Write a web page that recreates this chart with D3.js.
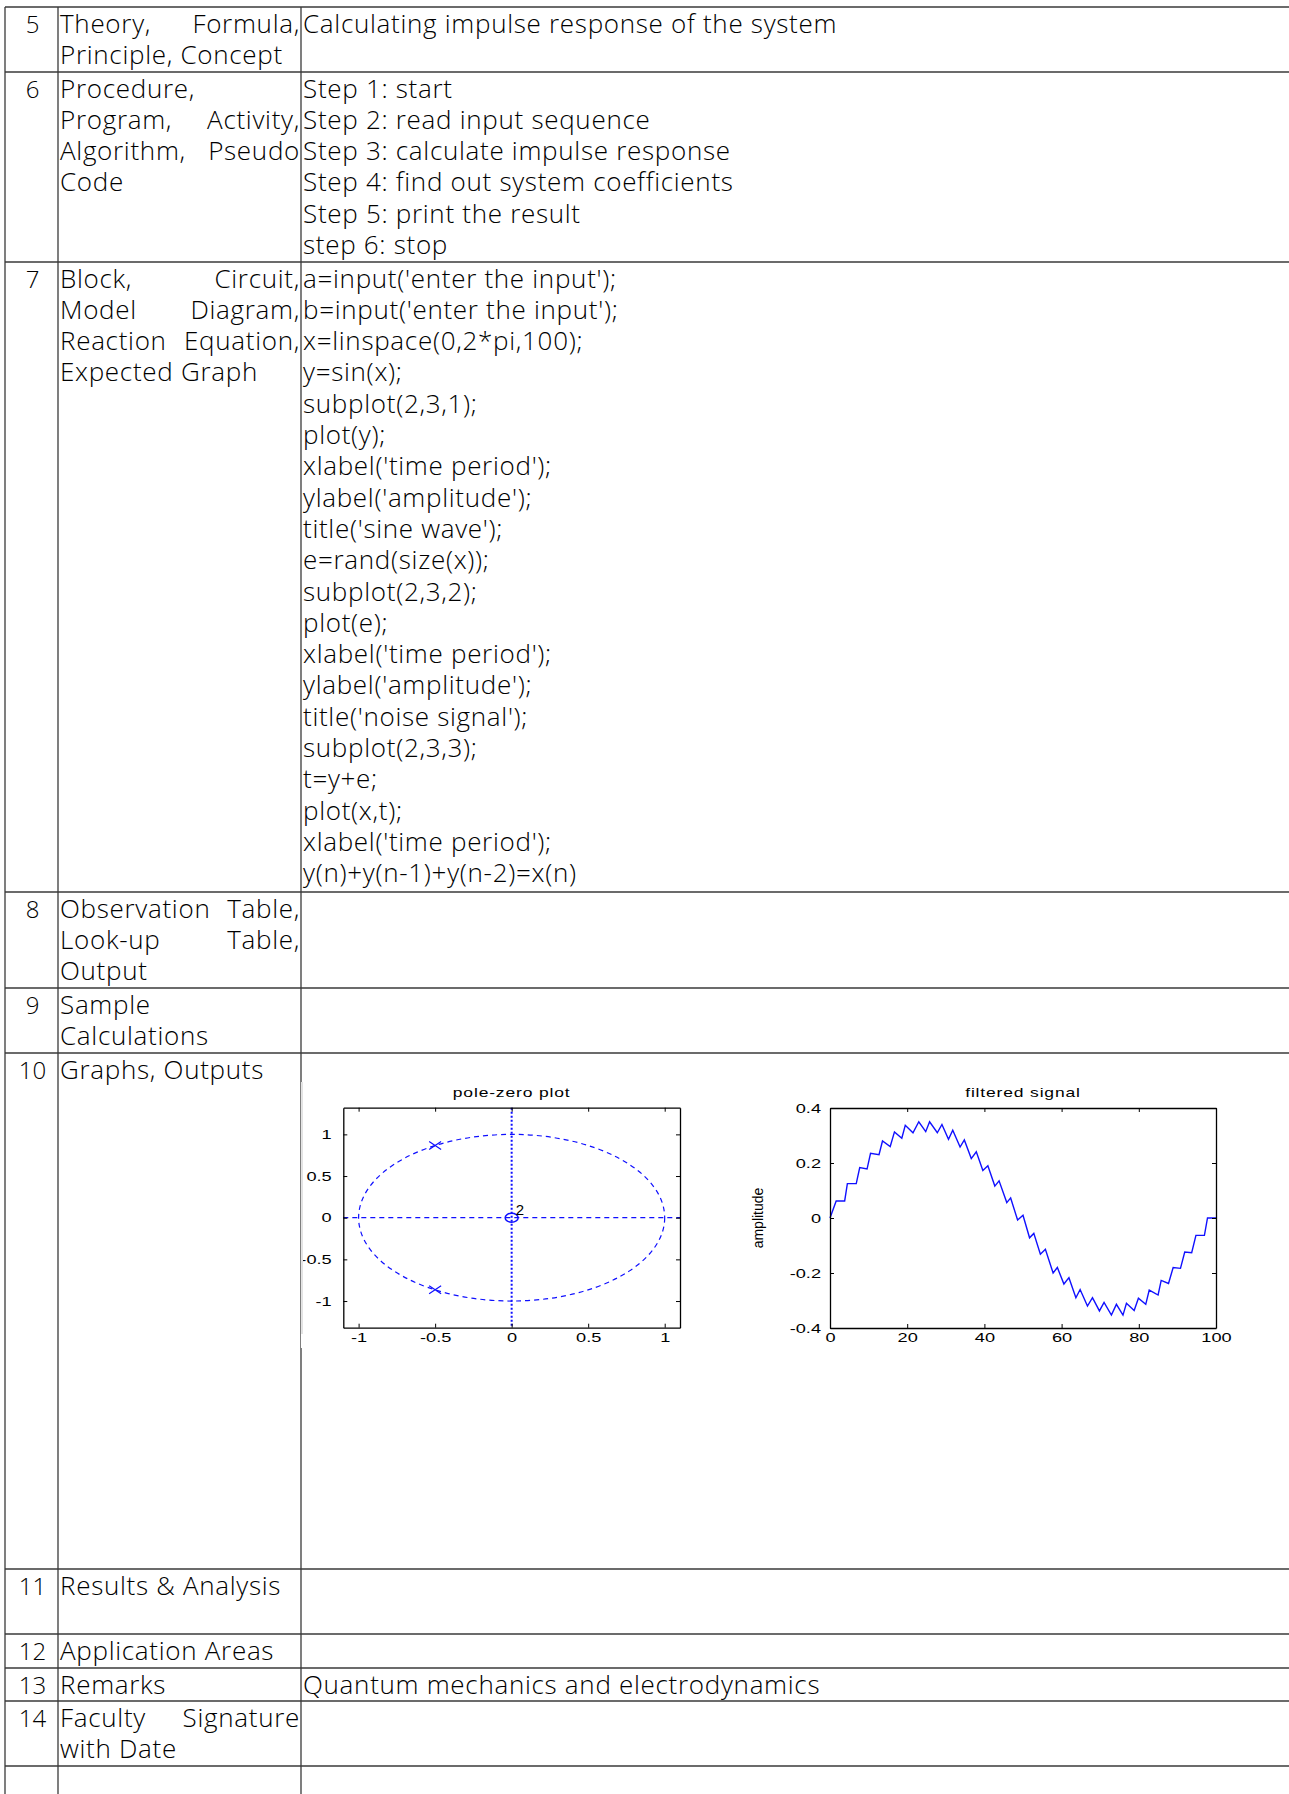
<!DOCTYPE html>
<html>
<head>
<meta charset="utf-8">
<script src="https://cdn.jsdelivr.net/npm/d3@7"></script>
<style>
  body { margin: 0; background: #fff; }
  svg { display: block; }
</style>
</head>
<body>
<svg id="svgMain" width="1289" height="1794"></svg>
<script>
// ---- data ----
const rowNums = ["5", "6", "7", "8", "9", "10", "11", "12", "13", "14", ""];

// left column labels, one array per row; "J" = justified line, "L" = left line
const rowLabels = [
    [["Theory, Formula,", "J"], ["Principle, Concept", "L"]],
    [["Procedure,", "L"], ["Program, Activity,", "J"], ["Algorithm, Pseudo", "J"], ["Code", "L"]],
    [["Block, Circuit,", "J"], ["Model Diagram,", "J"], ["Reaction Equation,", "J"], ["Expected Graph", "L"]],
    [["Observation Table,", "J"], ["Look-up Table,", "J"], ["Output", "L"]],
    [["Sample", "L"], ["Calculations", "L"]],
    [["Graphs, Outputs", "L"]],
    [["Results & Analysis", "L"]],
    [["Application Areas", "L"]],
    [["Remarks", "L"]],
    [["Faculty Signature", "J"], ["with Date", "L"]],
    []
];

const rowContent = [
    ["Calculating impulse response of the system"],
    ["Step 1: start", "Step 2: read input sequence", "Step 3: calculate impulse response",
     "Step 4: find out system coefficients", "Step 5: print the result", "step 6: stop"],
    ["a=input('enter the input');", "b=input('enter the input');", "x=linspace(0,2*pi,100);",
     "y=sin(x);", "subplot(2,3,1);", "plot(y);", "xlabel('time period');", "ylabel('amplitude');",
     "title('sine wave');", "e=rand(size(x));", "subplot(2,3,2);", "plot(e);",
     "xlabel('time period');", "ylabel('amplitude');", "title('noise signal');",
     "subplot(2,3,3);", "t=y+e;", "plot(x,t);", "xlabel('time period');", "y(n)+y(n-1)+y(n-2)=x(n)"],
    [], [], [], [], [],
    ["Quantum mechanics and electrodynamics"],
    [], []
];

// pole-zero plot
const poleRe = [-0.5, -0.5];
const poleIm = [0.866, -0.866];
const zeroRe = [0];
const zeroIm = [0];
const zeroCount = "2";
const pzTicks = [-1, -0.5, 0, 0.5, 1];

// filtered signal (vertices)
const sigX = [0, 1.6, 3.8, 4.5, 6.8, 7.7, 9.6, 10.5, 12.7, 13.6,
    15.6, 16.7, 18.6, 19.5, 21.5, 23, 24.8, 25.8, 27.8, 29,
    30.7, 31.8, 33.7, 34.8, 36.6, 37.9, 39.6, 40.9, 42.7, 43.8,
    45.8, 46.8, 48.6, 50, 51.7, 52.8, 54.5, 55.8, 57.8, 58.9,
    60.6, 61.9, 63.7, 64.8, 66.7, 68, 69.8, 71, 72.9, 74.2,
    75.9, 76.8, 78.8, 79.9, 81.8, 82.7, 85, 85.8, 87.7, 88.9,
    90.8, 91.9, 93.7, 94.8, 97, 97.8, 100];
const sigY = [0, 0.062, 0.062, 0.125, 0.125, 0.183, 0.178, 0.235, 0.23, 0.28,
    0.26, 0.313, 0.29, 0.337, 0.31, 0.35, 0.314, 0.35, 0.31, 0.34,
    0.286, 0.319, 0.258, 0.284, 0.216, 0.241, 0.173, 0.19, 0.116, 0.135,
    0.056, 0.073, -0.007, 0.01, -0.072, -0.056, -0.132, -0.114, -0.2, -0.18,
    -0.24, -0.217, -0.29, -0.26, -0.32, -0.29, -0.338, -0.307, -0.353, -0.314,
    -0.353, -0.31, -0.336, -0.292, -0.314, -0.262, -0.28, -0.227, -0.238, -0.18,
    -0.183, -0.124, -0.126, -0.063, -0.063, 0, 0];
const sigXTicks = [0, 20, 40, 60, 80, 100];
const sigYTicks = [-0.4, -0.2, 0, 0.2, 0.4];

// ---- layout ----
let svgMain = d3.select("#svgMain");
const W = +svgMain.attr("width");
const rowEdges = [7, 72, 262, 892, 988, 1053, 1569, 1634, 1668, 1701, 1766, 1800];
const colEdges = [5, 58, 301];
const lineH = 31.3;
const firstBase = 25.5;
const fontFam = "'Open Sans', Lato, sans-serif";
const fontSize = 26;
const lineColor = "#3a3a3a";

// table lines
const grid = svgMain.append("g").attr("class", "grid");
rowEdges.slice(0, -1).forEach(y => {
    grid.append("line").attr("x1", colEdges[0]).attr("x2", W)
        .attr("y1", y).attr("y2", y)
        .attr("stroke", lineColor).attr("stroke-width", 1.4);
});
colEdges.forEach(x => {
    grid.append("line").attr("x1", x).attr("x2", x)
        .attr("y1", rowEdges[0]).attr("y2", 1794)
        .attr("stroke", lineColor).attr("stroke-width", 1.3);
});

const txt = svgMain.append("g")
    .attr("font-family", fontFam)
    .attr("font-size", fontSize)
    .attr("font-weight", 300)
    .attr("letter-spacing", 0.7)
    .attr("fill", "#000");

// row numbers
rowNums.forEach((n, i) => {
    txt.append("text")
        .attr("x", (colEdges[0] + colEdges[1]) / 2 + 1)
        .attr("y", rowEdges[i] + firstBase)
        .attr("text-anchor", "middle")
        .attr("font-size", 24)
        .attr("letter-spacing", 0)
        .text(n);
});

// left labels (with justification)
const labLeft = colEdges[1] + 2, labRight = colEdges[2] - 1;
rowLabels.forEach((lines, i) => {
    lines.forEach(([s, mode], j) => {
        const y = rowEdges[i] + firstBase + j * lineH;
        const words = s.split(" ");
        if (mode === "L" || words.length < 2) {
            txt.append("text").attr("x", labLeft).attr("y", y).text(s);
            return;
        }
        const nodes = words.map(w => txt.append("text").attr("y", y).text(w));
        const widths = nodes.map(n => n.node().getComputedTextLength());
        const gap = (labRight - labLeft - d3.sum(widths)) / (words.length - 1);
        let x = labLeft;
        nodes.forEach((n, k) => {
            n.attr("x", x);
            x += widths[k] + gap;
        });
    });
});

// right column content
rowContent.forEach((lines, i) => {
    lines.forEach((s, j) => {
        txt.append("text")
            .attr("x", colEdges[2] + 2)
            .attr("y", rowEdges[i] + firstBase + j * lineH)
            .text(s);
    });
});

// ---- graphs image area ----
const imgBox = { x: 301, y: 1082, w: 940, h: 266 };
svgMain.append("rect")
    .attr("x", imgBox.x).attr("y", imgBox.y)
    .attr("width", imgBox.w).attr("height", imgBox.h)
    .attr("fill", "#fff");
svgMain.append("line")
    .attr("x1", imgBox.x + 1).attr("x2", imgBox.x + 1)
    .attr("y1", imgBox.y).attr("y2", imgBox.y + 252)
    .attr("stroke", "#c8c8c8").attr("stroke-width", 1);

svgMain.append("clipPath").attr("id", "imgClip")
    .append("rect")
    .attr("x", imgBox.x + 2).attr("y", imgBox.y)
    .attr("width", imgBox.w).attr("height", imgBox.h);

const graphs = svgMain.append("g").attr("clip-path", "url(#imgClip)");

const plotFont = "'Liberation Sans', Arial, sans-serif";
const stretch = 1.4;
const blue = "#1010ff";

function boxAxes(g, x, y, xt, yt, xpad, ypad) {
    const x0 = x.range()[0], x1 = x.range()[1];
    const y0 = y.range()[0], y1 = y.range()[1];
    const fmt = d => String(d);
    g.append("g").attr("transform", "translate(0," + y0 + ")")
        .call(d3.axisBottom(x).tickValues(xt).tickFormat(fmt).tickSizeInner(-4).tickSizeOuter(0).tickPadding(xpad));
    g.append("g").attr("transform", "translate(0," + y1 + ")")
        .call(d3.axisTop(x).tickValues(xt).tickSizeInner(-4).tickSizeOuter(0).tickFormat(""));
    g.append("g").attr("transform", "translate(" + x0 + ",0)")
        .call(d3.axisLeft(y).tickValues(yt).tickFormat(fmt).tickSizeInner(-4).tickSizeOuter(0).tickPadding(ypad));
    g.append("g").attr("transform", "translate(" + x1 + ",0)")
        .call(d3.axisRight(y).tickValues(yt).tickSizeInner(-4).tickSizeOuter(0).tickFormat(""));
    g.selectAll(".domain").attr("stroke", "#000").attr("stroke-width", 1.3);
    g.selectAll(".tick line").attr("stroke", "#000");
    g.selectAll(".tick text")
        .attr("font-family", plotFont)
        .attr("font-size", 13)
        .attr("fill", "#000")
        .attr("transform", "scale(" + stretch + ",1)");
}

function plotTitle(g, cx, y, s) {
    g.append("text")
        .attr("x", cx / stretch).attr("y", y)
        .attr("transform", "scale(" + stretch + ",1)")
        .attr("text-anchor", "middle")
        .attr("font-family", plotFont)
        .attr("font-size", 12.5)
        .attr("letter-spacing", 0.6)
        .text(s);
}

// pole-zero plot
const pz = graphs.append("g");
const pzX = d3.scaleLinear().domain([-1.1, 1.1]).range([343.3, 680]);
const pzY = d3.scaleLinear().domain([-1.32, 1.32]).range([1327.7, 1107.7]);

pz.append("ellipse")
    .attr("cx", pzX(0)).attr("cy", pzY(0))
    .attr("rx", pzX(1) - pzX(0)).attr("ry", pzY(0) - pzY(1))
    .attr("fill", "none").attr("stroke", blue)
    .attr("stroke-width", 1.2).attr("stroke-dasharray", "5,4");
pz.append("line")
    .attr("x1", pzX(-1.1)).attr("x2", pzX(1.1))
    .attr("y1", pzY(0)).attr("y2", pzY(0))
    .attr("stroke", blue).attr("stroke-width", 1.2).attr("stroke-dasharray", "5,4");
pz.append("line")
    .attr("x1", pzX(0)).attr("x2", pzX(0))
    .attr("y1", pzY(1.32)).attr("y2", pzY(-1.32))
    .attr("stroke", blue).attr("stroke-width", 2).attr("stroke-dasharray", "2,2");

poleRe.forEach((re, i) => {
    const cx = pzX(re), cy = pzY(poleIm[i]);
    pz.append("path")
        .attr("d", "M" + (cx - 6) + "," + (cy - 4) + "L" + (cx + 6) + "," + (cy + 4) +
                   "M" + (cx - 6) + "," + (cy + 4) + "L" + (cx + 6) + "," + (cy - 4))
        .attr("stroke", blue).attr("stroke-width", 1.2).attr("fill", "none");
});
zeroRe.forEach((re, i) => {
    pz.append("ellipse")
        .attr("cx", pzX(re)).attr("cy", pzY(zeroIm[i]))
        .attr("rx", 6.5).attr("ry", 4.5)
        .attr("fill", "none").attr("stroke", blue).attr("stroke-width", 1.5);
    pz.append("text")
        .attr("x", pzX(re) + 4).attr("y", pzY(zeroIm[i]) - 3)
        .attr("font-family", plotFont).attr("font-size", 15)
        .text(zeroCount);
});

boxAxes(pz, pzX, pzY, pzTicks, pzTicks, 5, 8.3);
plotTitle(pz, (pzX.range()[0] + pzX.range()[1]) / 2, 1097, "pole-zero plot");

// filtered signal
const fs = graphs.append("g");
const fsX = d3.scaleLinear().domain([0, 100]).range([830, 1216]);
const fsY = d3.scaleLinear().domain([-0.4, 0.4]).range([1328, 1108]);

const sigLine = d3.line()
    .x(d => fsX(d[0]))
    .y(d => fsY(d[1]));
fs.append("path")
    .attr("d", sigLine(sigX.map((v, i) => [v, sigY[i]])))
    .attr("fill", "none").attr("stroke", blue).attr("stroke-width", 1.4);

boxAxes(fs, fsX, fsY, sigXTicks, sigYTicks, 5, 6.4);
plotTitle(fs, (fsX.range()[0] + fsX.range()[1]) / 2, 1097, "filtered signal");

fs.append("text")
    .attr("transform", "translate(763,1218) rotate(-90)")
    .attr("text-anchor", "middle")
    .attr("font-family", "'Liberation Sans Narrow', 'Liberation Sans', sans-serif")
    .attr("font-size", 14)
    .text("amplitude");
</script>
</body>
</html>
